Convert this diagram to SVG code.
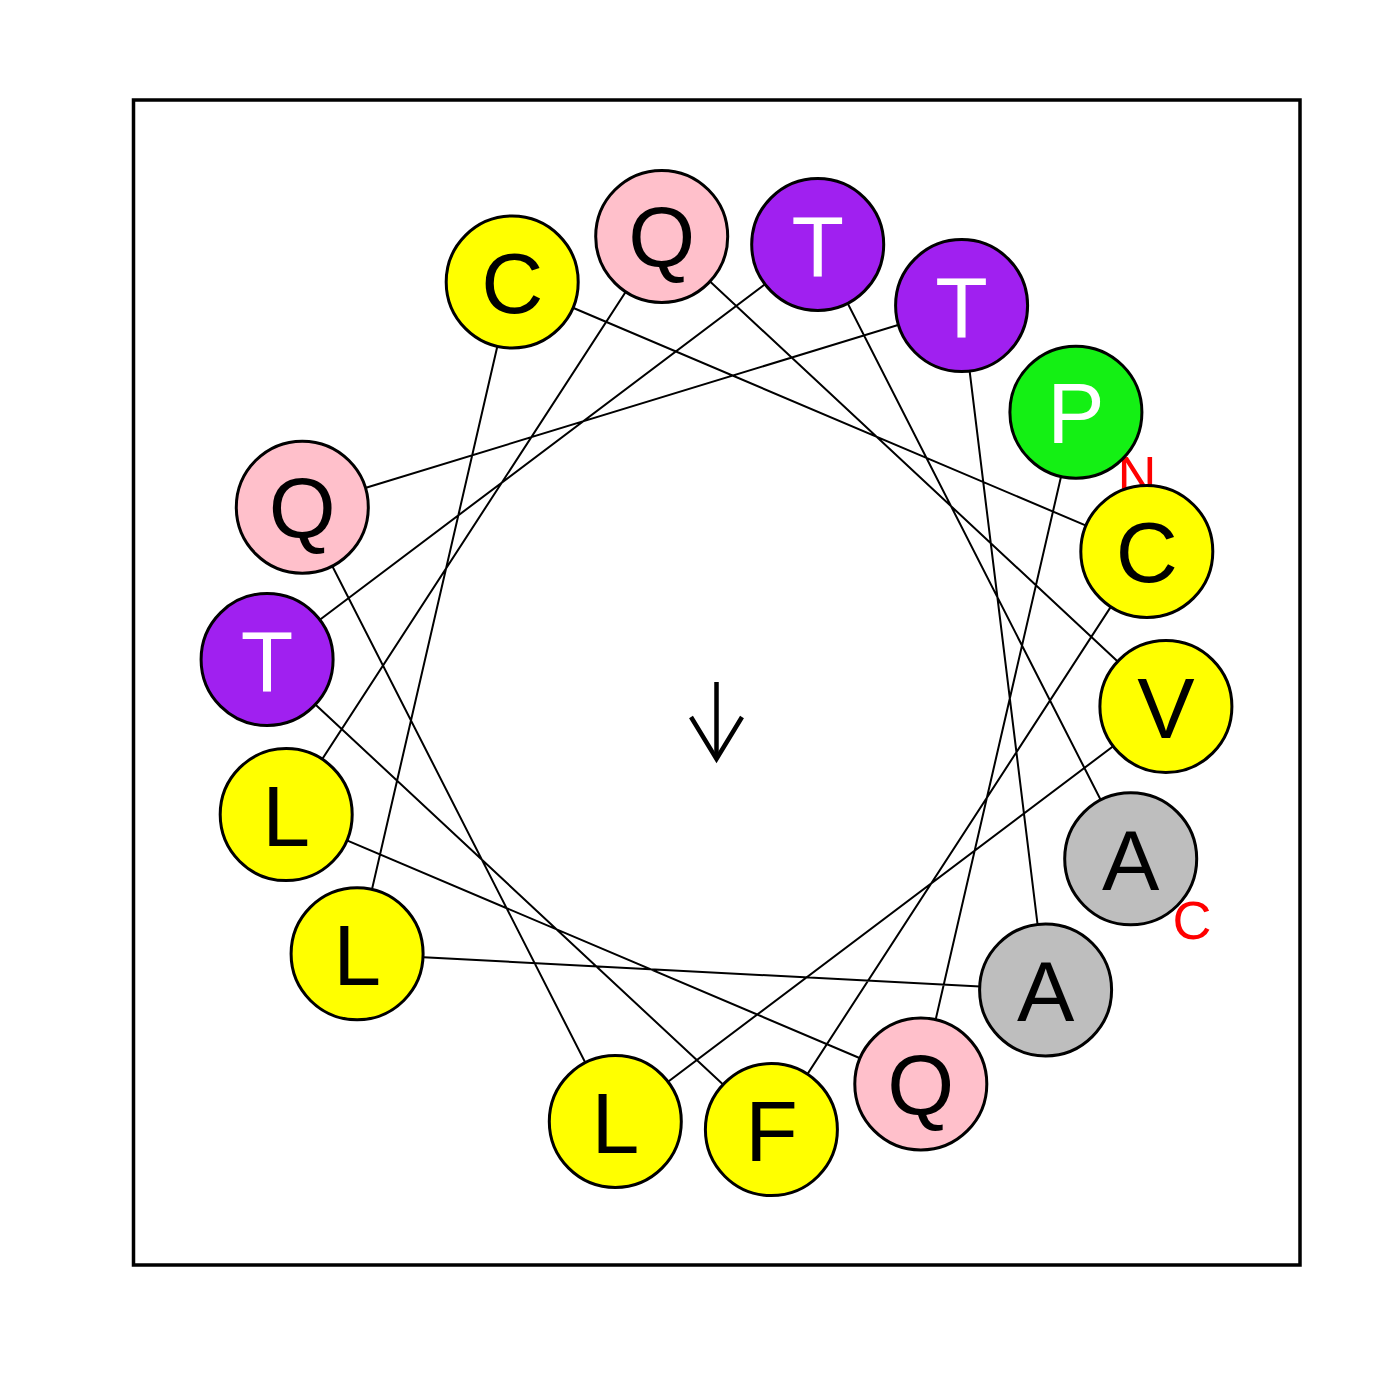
<svg xmlns="http://www.w3.org/2000/svg" width="1400" height="1400" viewBox="0 0 1400 1400">
<style>
.res circle{stroke:#000;stroke-width:3}
.res text{font-family:"Liberation Sans",Arial,sans-serif;font-size:86px;text-anchor:middle}
.y{fill:#FFFF00}.p{fill:#FFC0CB}.v{fill:#A020F0}.g{fill:#14F014}.a{fill:#BEBEBE}
.k{fill:#000}.w{fill:#FFF}
.lbl{font-family:"Liberation Sans",Arial,sans-serif;font-size:54px;fill:#FF0000;text-anchor:middle}
</style>
<rect width="1400" height="1400" fill="#FFF"/>
<rect x="133.5" y="100" width="1166.5" height="1165" fill="none" stroke="#000" stroke-width="3.5"/>
<g id="connectors" stroke="#000" stroke-width="2" fill="none">
<polyline points="1075.9,412.2 920.8,1084.0 286.2,814.6 661.7,236.4 1165.9,706.5 615.3,1121.5 302.3,507.2 961.6,305.6 1045.6,989.9 357.1,953.8 512.2,282.0 1146.8,551.4 771.4,1129.6 267.1,659.5 817.7,244.5 1130.7,858.8"/>
</g>
<g id="arrow" stroke="#000" stroke-width="4.5" fill="none" stroke-linecap="butt">
<line x1="716.5" y1="682" x2="716.5" y2="758"/>
<polyline points="691,717 716.5,759 742,717"/>
</g>
<text class="lbl" x="1137" y="494">N</text>
<text class="lbl" x="1192" y="939">C</text>
<g id="r1" class="res"><circle class="g" cx="1075.9" cy="412.2" r="66"/><text class="w" x="1075.9" y="443.2">P</text></g>
<g id="r2" class="res"><circle class="p" cx="920.8" cy="1084.0" r="66"/><text class="k" x="920.8" y="1115.0">Q</text></g>
<g id="r3" class="res"><circle class="y" cx="286.2" cy="814.6" r="66"/><text class="k" x="286.2" y="845.6">L</text></g>
<g id="r4" class="res"><circle class="p" cx="661.7" cy="236.4" r="66"/><text class="k" x="661.7" y="267.4">Q</text></g>
<g id="r5" class="res"><circle class="y" cx="1165.9" cy="706.5" r="66"/><text class="k" x="1165.9" y="737.5">V</text></g>
<g id="r6" class="res"><circle class="y" cx="615.3" cy="1121.5" r="66"/><text class="k" x="615.3" y="1152.5">L</text></g>
<g id="r7" class="res"><circle class="p" cx="302.3" cy="507.2" r="66"/><text class="k" x="302.3" y="538.2">Q</text></g>
<g id="r8" class="res"><circle class="v" cx="961.6" cy="305.6" r="66"/><text class="w" x="961.6" y="336.6">T</text></g>
<g id="r9" class="res"><circle class="a" cx="1045.6" cy="989.9" r="66"/><text class="k" x="1045.6" y="1020.9">A</text></g>
<g id="r10" class="res"><circle class="y" cx="357.1" cy="953.8" r="66"/><text class="k" x="357.1" y="984.8">L</text></g>
<g id="r11" class="res"><circle class="y" cx="512.2" cy="282.0" r="66"/><text class="k" x="512.2" y="313.0">C</text></g>
<g id="r12" class="res"><circle class="y" cx="1146.8" cy="551.4" r="66"/><text class="k" x="1146.8" y="582.4">C</text></g>
<g id="r13" class="res"><circle class="y" cx="771.4" cy="1129.6" r="66"/><text class="k" x="771.4" y="1160.6">F</text></g>
<g id="r14" class="res"><circle class="v" cx="267.1" cy="659.5" r="66"/><text class="w" x="267.1" y="690.5">T</text></g>
<g id="r15" class="res"><circle class="v" cx="817.7" cy="244.5" r="66"/><text class="w" x="817.7" y="275.5">T</text></g>
<g id="r16" class="res"><circle class="a" cx="1130.7" cy="858.8" r="66"/><text class="k" x="1130.7" y="889.8">A</text></g>
</svg>
